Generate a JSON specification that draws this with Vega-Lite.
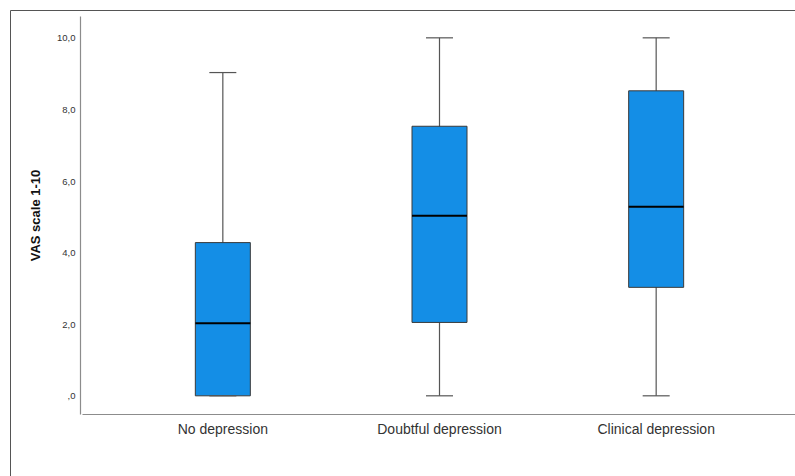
{
  "$schema": "https://vega.github.io/schema/vega-lite/v6.json",
  "width": 790,
  "height": 475,
  "autosize": "none",
  "padding": {"left": 10, "top": 10, "right": 0, "bottom": 0},
  "background": "white",
  "config": {
    "font": "Liberation Sans",
    "view": {"stroke": "#555555", "strokeWidth": 1}
  },
  "data": {
    "values": [
      {"group": "No depression", "min": 0, "q1": 0, "median": 2.03, "q3": 4.28, "max": 9.03},
      {"group": "Doubtful depression", "min": 0, "q1": 2.05, "median": 5.03, "q3": 7.53, "max": 10},
      {"group": "Clinical depression", "min": 0, "q1": 3.03, "median": 5.28, "q3": 8.52, "max": 10}
    ]
  },
  "encoding": {
    "x": {
      "field": "group",
      "type": "nominal",
      "sort": ["No depression", "Doubtful depression", "Clinical depression"],
      "scale": {"type": "band", "range": [72, 787], "paddingInner": 0, "paddingOuter": 0.15},
      "axis": {
        "title": null,
        "offset": -71,
        "domainColor": "#8c8c8c",
        "domainWidth": 1.2,
        "ticks": false,
        "labelAngle": 0,
        "labelFontSize": 14,
        "labelColor": "#333333",
        "labelPadding": 8
      }
    }
  },
  "layer": [
    {
      "mark": {"type": "rule", "color": "#555555", "strokeWidth": 1.2},
      "encoding": {
        "y": {
          "field": "min",
          "type": "quantitative",
          "scale": {"domain": [-0.508, 10.61], "range": [404, 6], "nice": false, "zero": false},
          "axis": {
            "values": [0, 2, 4, 6, 8, 10],
            "labelExpr": "datum.value == 0 ? ',0' : replace(format(datum.value, '.1f'), '.', ',')",
            "offset": -70,
            "domainColor": "#8c8c8c",
            "domainWidth": 1.2,
            "ticks": false,
            "grid": false,
            "labelFontSize": 9.5,
            "labelColor": "#333333",
            "labelPadding": 5,
            "title": "VAS scale 1-10",
            "titleFontSize": 13,
            "titleFontWeight": "bold",
            "titleColor": "#111111",
            "titlePadding": 14
          }
        },
        "y2": {"field": "max"}
      }
    },
    {
      "mark": {"type": "bar", "size": 55, "fill": "#148ee6", "stroke": "#3a3a3a", "strokeWidth": 1},
      "encoding": {
        "y": {"field": "q1", "type": "quantitative"},
        "y2": {"field": "q3"}
      }
    },
    {
      "mark": {"type": "tick", "size": 55, "thickness": 2, "color": "#000000", "opacity": 1},
      "encoding": {"y": {"field": "median", "type": "quantitative"}}
    },
    {
      "mark": {"type": "tick", "size": 27, "thickness": 1.2, "color": "#555555", "opacity": 1},
      "encoding": {"y": {"field": "min", "type": "quantitative"}}
    },
    {
      "mark": {"type": "tick", "size": 27, "thickness": 1.2, "color": "#555555", "opacity": 1},
      "encoding": {"y": {"field": "max", "type": "quantitative"}}
    }
  ]
}
